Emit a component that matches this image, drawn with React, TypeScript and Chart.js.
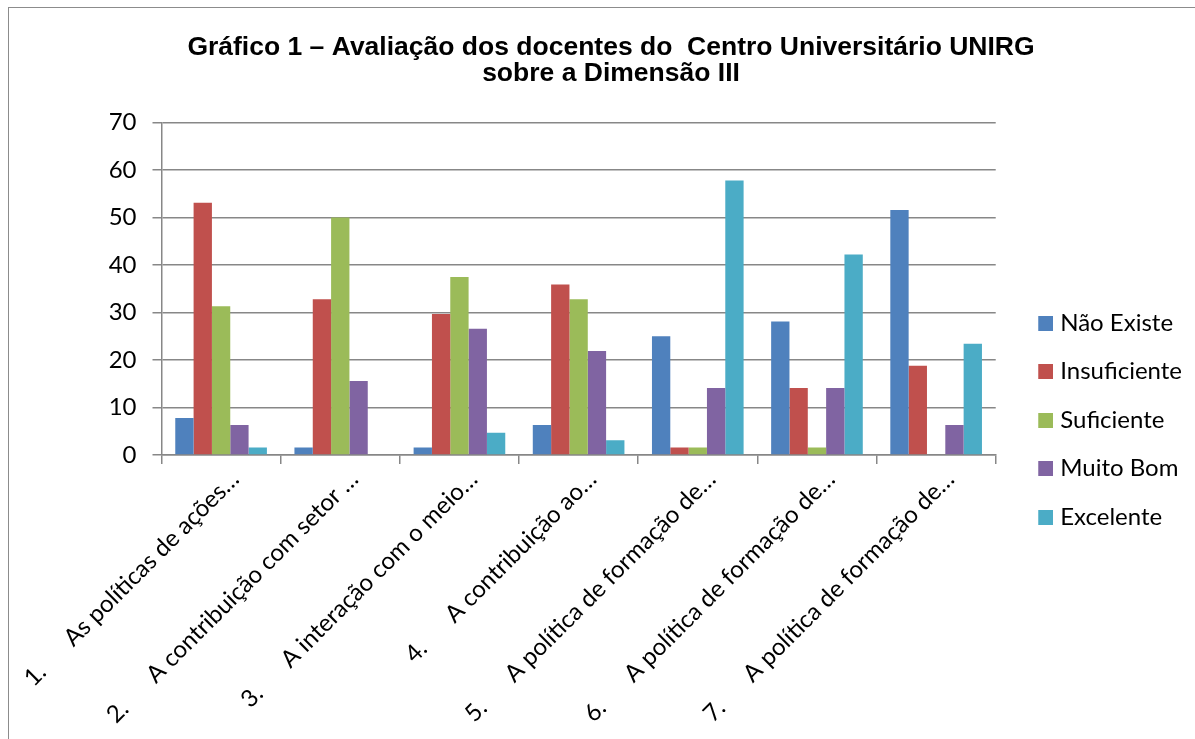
import React, { useEffect, useRef } from "react";
import { Chart, registerables } from "chart.js";

Chart.register(...registerables);

const GAP = "      ";
const categories = [
  "1." + GAP + "As políticas de ações…",
  "2." + GAP + "A contribuição com setor …",
  "3." + GAP + "A interação com o meio…",
  "4." + GAP + "A contribuição ao…",
  "5." + GAP + "A política de formação de…",
  "6." + GAP + "A política de formação de…",
  "7." + GAP + "A política de formação de…",
];

const seriesNames = ["Não Existe", "Insuficiente", "Suficiente", "Muito Bom", "Excelente"];
const seriesColors = ["#4F81BD", "#C0504D", "#9BBB59", "#8064A2", "#4BACC6"];

const naoExiste = [7.8, 1.6, 1.6, 6.3, 25.0, 28.1, 51.6];
const insuficiente = [53.1, 32.8, 29.7, 35.9, 1.6, 14.1, 18.8];
const suficiente = [31.3, 50.0, 37.5, 32.8, 1.6, 1.6, 0];
const muitoBom = [6.3, 15.6, 26.6, 21.9, 14.1, 14.1, 6.3];
const excelente = [1.6, 0, 4.7, 3.1, 57.8, 42.2, 23.4];

const yMin = 0;
const yMax = 70;
const yStep = 10;

const titleLines = [
  "Gráfico 1 – Avaliação dos docentes do  Centro Universitário UNIRG",
  "sobre a Dimensão III",
];

const GRID = "#878787";
const LABEL_FONT = "Lato, 'Open Sans', sans-serif";

function makeSwatch(color: string): HTMLCanvasElement {
  // legend marker: transparent left margin, coloured square on the right
  const c = document.createElement("canvas");
  c.width = 38;
  c.height = 15;
  const ctx = c.getContext("2d");
  if (ctx) {
    ctx.fillStyle = color;
    ctx.fillRect(23, 0, 15, 15);
  }
  return c;
}

export default function App() {
  const ref = useRef<HTMLCanvasElement | null>(null);

  useEffect(() => {
    if (!ref.current) return;
    const values = [naoExiste, insuficiente, suficiente, muitoBom, excelente];
    const swatches = seriesColors.map(makeSwatch);
    const chart = new Chart(ref.current, {
      type: "bar",
      data: {
        labels: categories,
        datasets: seriesNames.map((name, i) => ({
          label: name,
          data: values[i],
          backgroundColor: seriesColors[i],
          borderWidth: 0,
          categoryPercentage: 0.769,
          barPercentage: 1.0,
        })),
      },
      options: {
        responsive: false,
        animation: false,
        devicePixelRatio: 1,
        layout: { padding: { left: 21, right: 21, top: 0, bottom: 0 } },
        plugins: {
          title: {
            display: true,
            text: titleLines,
            color: "#000",
            font: { family: "'Liberation Sans', Arial, sans-serif", size: 26.5, weight: "bold", lineHeight: 1.0 },
            padding: { top: 26, bottom: 35.5 },
          },
          legend: {
            position: "right",
            align: "center",
            labels: {
              usePointStyle: true,
              pointStyleWidth: 28,
              boxWidth: 15,
              boxHeight: 15,
              padding: 24.5,
              color: "#000",
              font: { family: LABEL_FONT, size: 24 },
              generateLabels: (c: any) => {
                const items = Chart.defaults.plugins.legend.labels.generateLabels(c);
                return items.map((it: any, i: number) => ({ ...it, pointStyle: swatches[i] }));
              },
            },
          },
          tooltip: { enabled: false },
        },
        scales: {
          x: {
            offset: true,
            grid: {
              display: true,
              drawOnChartArea: false,
              offset: true,
              tickLength: 9,
              color: GRID,
              lineWidth: 1.5,
            },
            border: { color: GRID, width: 1.5 },
            ticks: {
              autoSkip: false,
              maxRotation: 45,
              minRotation: 45,
              color: "#000",
              padding: 1,
              labelOffset: 14,
              font: { family: LABEL_FONT, size: 24 },
            },
            afterFit: (s: any) => {
              s.height = 377;
              s.paddingLeft = 0;
              s.paddingRight = 0;
            },
          },
          y: {
            min: yMin,
            max: yMax,
            ticks: {
              stepSize: yStep,
              color: "#000",
              padding: 16,
              font: { family: LABEL_FONT, size: 24 },
            },
            grid: { color: GRID, lineWidth: 1.5, tickLength: 9 },
            border: { color: GRID, width: 1.5 },
            afterFit: (s: any) => {
              s.width = 131.5;
            },
          },
        },
      },
    });
    return () => chart.destroy();
  }, []);

  return (
    <div style={{ position: "fixed", left: 0, top: 0, width: 1195, height: 739, overflow: "hidden", background: "#fff" }}>
      <div
        style={{
          position: "absolute",
          left: 8,
          top: 7,
          width: 1240,
          height: 860,
          border: "1.5px solid #8c8c8c",
          boxSizing: "border-box",
        }}
      >
        <canvas ref={ref} width={1204} height={824} style={{ display: "block" }} />
      </div>
    </div>
  );
}
